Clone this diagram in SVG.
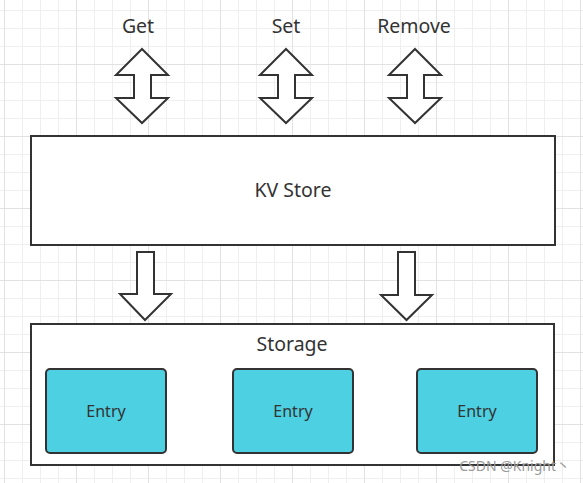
<svg xmlns="http://www.w3.org/2000/svg" width="583" height="483" viewBox="0 0 583 483">
<defs>
<pattern id="minor" x="4" y="10" width="18" height="18" patternUnits="userSpaceOnUse">
<path d="M0.5 0 V18 M0 0.5 H18" fill="none" stroke="#efefef" stroke-width="1"/>
</pattern>
<pattern id="major" x="4" y="64" width="72" height="72" patternUnits="userSpaceOnUse">
<path d="M0.5 0 V72 M0 0.5 H72" fill="none" stroke="#e2e2e2" stroke-width="1"/>
</pattern>
</defs>
<style>
.box{fill:#ffffff;stroke:#333333;stroke-width:2}
.entry{fill:#4dd0e1;stroke:#333333;stroke-width:2}
.arrow{fill:#ffffff;stroke:#333333;stroke-width:2;stroke-linejoin:miter}
.t{font-family:"Noto Sans","Open Sans","Liberation Sans",sans-serif;fill:#333333;text-anchor:middle}
.lbl{font-size:19.5px}
.en{font-size:16px}
.wm{font-family:"Noto Sans","Noto Sans CJK SC",sans-serif;font-size:14px;fill:#9a9a9a;text-anchor:end}
</style>
<rect width="583" height="483" fill="#ffffff"/>
<rect width="583" height="483" fill="url(#minor)"/>
<rect width="583" height="483" fill="url(#major)"/>

<g id="connectors">
<path class="arrow" d="M142 49 L168 75 L151 75 L151 98 L168 98 L142 123 L116 98 L134 98 L134 75 L116 75 Z"/>
<path class="arrow" d="M286 49 L312 75 L295 75 L295 98 L312 98 L286 123 L260 98 L278 98 L278 75 L260 75 Z"/>
<path class="arrow" d="M415 49 L441 75 L424 75 L424 98 L441 98 L415 123 L389 98 L407 98 L407 75 L389 75 Z"/>
<path class="arrow" d="M137 252 L154 252 L154 294 L171 294 L145 320 L120 294 L137 294 Z"/>
<path class="arrow" d="M398 252 L415 252 L415 295 L432 295 L406.5 320 L381 295 L398 295 Z"/>
</g>

<g id="op-get"><text class="t lbl" x="138" y="33">Get</text></g>
<g id="op-set"><text class="t lbl" x="286" y="33">Set</text></g>
<g id="op-remove"><text class="t lbl" x="414" y="33">Remove</text></g>

<g id="kvstore">
<rect class="box" x="31" y="136" width="524" height="109"/>
<text class="t lbl" x="293" y="197">KV Store</text>
</g>

<g id="storage">
<rect class="box" x="31" y="324" width="523" height="141"/>
<text class="t lbl" x="292" y="351">Storage</text>
</g>

<g id="entry1">
<rect class="entry" x="46" y="369" width="120" height="84" rx="4"/>
<text class="t en" x="106" y="417">Entry</text>
</g>
<g id="entry2">
<rect class="entry" x="233" y="369" width="120" height="84" rx="4"/>
<text class="t en" x="293" y="417">Entry</text>
</g>
<g id="entry3">
<rect class="entry" x="417" y="369" width="120" height="84" rx="4"/>
<text class="t en" x="477" y="417">Entry</text>
</g>

<text class="wm" x="570" y="471">CSDN @Knight丶</text>
</svg>
